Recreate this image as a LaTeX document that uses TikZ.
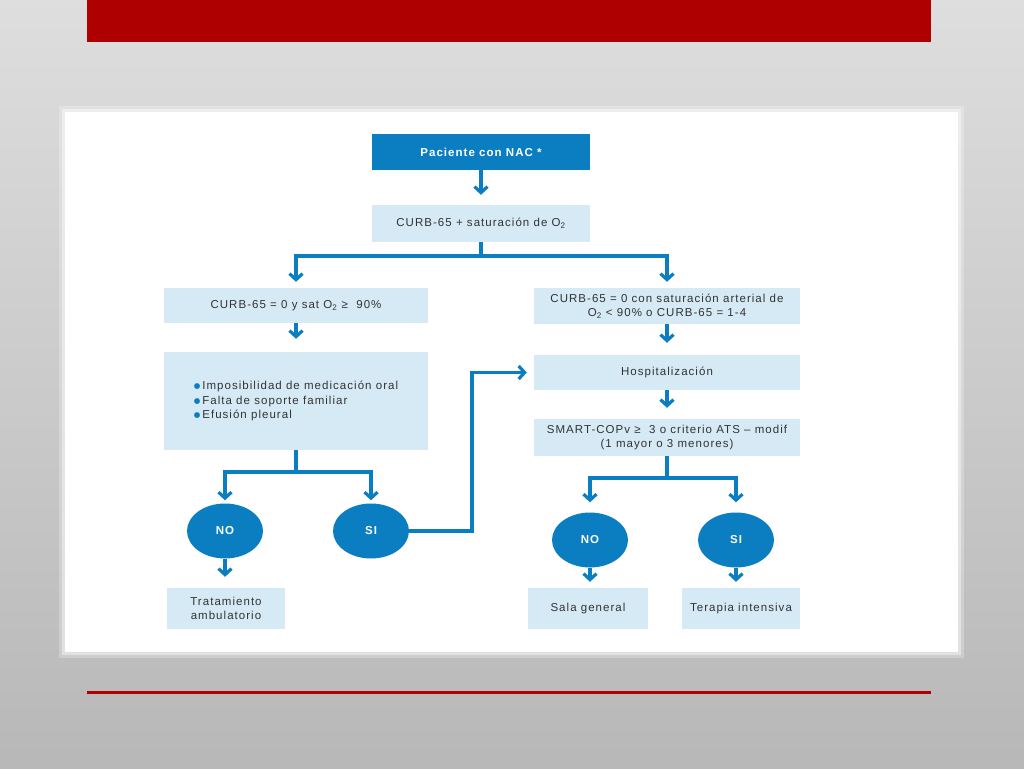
\documentclass[tikz,border=0pt]{standalone}
\usepackage{xcolor}
\usepackage{fontspec}
\setmainfont{Liberation Sans}[LetterSpace=9]
\newfontfamily\simbolo{DejaVu Sans}
\usepackage{tikz}
\usetikzlibrary{shapes.geometric, arrows.meta}

\definecolor{azul}{HTML}{0B7EC1}
\definecolor{azulcl}{HTML}{D6EAF5}
\definecolor{rojo}{HTML}{AE0000}
\definecolor{texto}{HTML}{333333}

\newcommand{\vineta}{\raisebox{1pt}{\simbolo\fontsize{7.5}{7.5}\selectfont\textcolor{azul}{●}}\,}

\begin{document}
\begin{tikzpicture}[x=1pt, y=-1pt,
    caja/.style={fill=azulcl, text=texto, align=center, inner sep=0pt,
      font=\fontsize{11.5}{14.5}\selectfont},
    cajaosc/.style={fill=azul, text=white, align=center, inner sep=0pt,
      font=\fontsize{11.5}{14.5}\selectfont\bfseries},
    bola/.style={ellipse, fill=azul, text=white, inner sep=0pt,
      minimum width=76pt, minimum height=55pt,
      font=\fontsize{11.5}{12}\selectfont\bfseries},
    linea/.style={draw=azul, line width=3.2pt},
    flecha/.style={linea, -{Straight Barb[length=6pt, width=13pt]}}]
  \useasboundingbox (0, 0) rectangle (1024, 768);
  \shade[top color=black!13, bottom color=black!28] (0, 0) rectangle (1024, 768);
  \fill[rojo] (87, 0) rectangle (931, 42);
  \fill[white, opacity=0.25] (59, 106) rectangle (964, 658);
  \fill[white, opacity=0.4] (62, 109) rectangle (961, 655);
  \fill[white] (65, 112) rectangle (958, 652);
  \draw[rojo, line width=3pt] (87, 692) -- (931, 692);

  \node[cajaosc, minimum width=218pt, minimum height=36pt] (pac) at (481, 152){Paciente con NAC *};
  \node[caja, minimum width=218pt, minimum height=37pt] (curb) at (481, 223.5){CURB-65 + saturación de O\textsubscript{2}};
  \node[caja, minimum width=264pt, minimum height=35pt] (izq) at (296, 305.5){CURB-65 = 0 y sat O\textsubscript{2} ≥ \ 90\%};
  \node[caja, minimum width=266pt, minimum height=36pt] (der) at (667, 306){CURB-65 = 0 con saturación arterial de\\ O\textsubscript{2} < 90\% o CURB-65 = 1-4};
  \node[caja, minimum width=264pt, minimum height=98pt, align=left] (crit) at (296, 401){\vineta Imposibilidad de medicación oral\\ \vineta Falta de soporte familiar\\ \vineta Efusión pleural};
  \node[caja, minimum width=266pt, minimum height=35pt] (hosp) at (667, 372.5){Hospitalización};
  \node[caja, minimum width=266pt, minimum height=37pt] (smart) at (667, 437.5){SMART-COPv ≥ \ 3 o criterio ATS – modif\\ (1 mayor o 3 menores)};

  \node[bola] (no1) at (225, 531){NO};
  \node[bola] (si1) at (371, 531){SI};
  \node[bola] (no2) at (590, 540){NO};
  \node[bola] (si2) at (736, 540){SI};

  \node[caja, minimum width=118pt, minimum height=41pt] (trat) at (226, 608.5){Tratamiento\\ ambulatorio};
  \node[caja, minimum width=120pt, minimum height=41pt] (sala) at (588, 608.5){Sala general};
  \node[caja, minimum width=118pt, minimum height=41pt] (tera) at (741, 608.5){Terapia intensiva};

  \coordinate (r1) at (481, 256);
  \coordinate (r2) at (296, 472);
  \coordinate (r3) at (667, 478);
  \coordinate (codo) at (472, 531);

  \draw[flecha, shorten >=10pt] (pac) -- (curb);
  \draw[linea] (curb.south) -- (r1);
  \draw[flecha, shorten >=6pt] (r1) -| (izq.north);
  \draw[flecha, shorten >=6pt] (r1) -| (der.north);
  \draw[flecha, shorten >=13pt] (izq) -- (crit);
  \draw[flecha, shorten >=12pt] (der) -- (hosp);
  \draw[flecha, shorten >=11pt] (hosp) -- (smart);

  \draw[linea] (crit.south) -- (r2);
  \draw[flecha, shorten >=3pt] (r2) -| (no1.north);
  \draw[flecha, shorten >=3pt] (r2) -| (si1.north);
  \draw[flecha, shorten >=7pt] (si1.east) -- (codo) |- (hosp.west);
  \draw[flecha, shorten >=11pt] (no1.south) -- (no1.south |- trat.north);

  \draw[linea] (smart.south) -- (r3);
  \draw[flecha, shorten >=10pt] (r3) -| (no2.north);
  \draw[flecha, shorten >=10pt] (r3) -| (si2.north);
  \draw[flecha, shorten >=6pt] (no2.south) -- (no2.south |- sala.north);
  \draw[flecha, shorten >=6pt] (si2.south) -- (si2.south |- tera.north);
\end{tikzpicture}
\end{document}
